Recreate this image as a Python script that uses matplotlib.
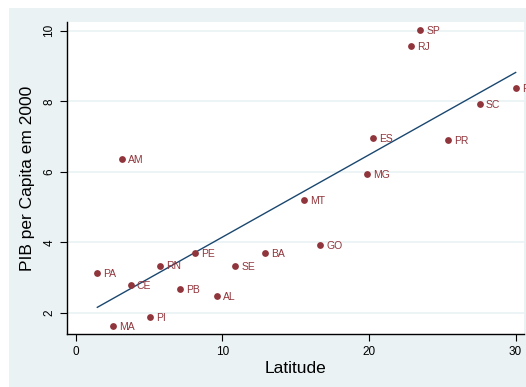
import numpy as np
import matplotlib
matplotlib.use("Agg")
import matplotlib.pyplot as plt
from matplotlib.patches import Rectangle

plt.rcParams["font.family"] = ["Liberation Sans", "DejaVu Sans"]

# ── Data ────────────────────────────────────────────────────────────────────
states = ["AM", "SP", "RJ", "RS", "SC", "ES", "PR", "MG", "MT", "GO",
          "BA", "PA", "CE", "RN", "PE", "PB", "SE", "AL", "PI", "MA"]
latitude = [3.12, 23.50, 22.87, 30.01, 27.56, 20.27, 25.39, 19.89, 15.54, 16.66,
            12.88, 1.46, 3.73, 5.73, 8.14, 7.08, 10.87, 9.62, 5.05, 2.50]
pib_2000 = [6.36, 10.01, 9.57, 8.37, 7.92, 6.96, 6.90, 5.94, 5.19, 3.92,
            3.69, 3.13, 2.79, 3.34, 3.69, 2.68, 3.32, 2.47, 1.88, 1.63]

MAROON = "#90353B"
NAVY = "#1A476F"
BG = "#EAF2F3"

lat = np.array(latitude)
pib = np.array(pib_2000)
# linear fit drawn over the observed latitude range
slope, intercept = np.polyfit(lat, pib, 1)
xfit = np.array([lat.min(), lat.max()])

fig = plt.figure(figsize=(5.26, 3.87), dpi=100)
fig.patch.set_facecolor("white")
fig.patches.append(Rectangle((9 / 526, 0), 1, 379 / 387, transform=fig.transFigure,
                             facecolor=BG, edgecolor="none", zorder=-10))

ax = fig.add_axes([67 / 526, 53 / 387, 457 / 526, 312 / 387])
ax.set_facecolor("white")

ax.scatter(lat, pib, s=24, color=MAROON, zorder=3, linewidths=0)
for s, x, y in zip(states, lat, pib):
    ax.annotate(s, (x, y), xytext=(4.5, -0.5), textcoords="offset points",
                ha="left", va="center", fontsize=7.5, color=MAROON, zorder=4)
ax.plot(xfit, intercept + slope * xfit, color=NAVY, lw=1.0, zorder=2)

ax.set_xlim(-0.61, 30.58)
ax.set_ylim(1.40, 10.25)
ax.set_xticks([0, 10, 20, 30])
ax.set_yticks([2, 4, 6, 8, 10])
ax.grid(axis="y", color=BG, lw=1.2, zorder=0)
ax.set_axisbelow(True)

for side in ["top", "right"]:
    ax.spines[side].set_visible(False)
for side in ["left", "bottom"]:
    ax.spines[side].set_color("black")
    ax.spines[side].set_linewidth(1.0)

ax.tick_params(direction="out", length=5, width=0.8, labelsize=8.5, colors="black")
for lbl in ax.get_yticklabels():
    lbl.set_rotation(90)
    lbl.set_va("center")

ax.set_xlabel("Latitude", fontsize=12.5, labelpad=2)
ax.set_ylabel("PIB per Capita em 2000", fontsize=12.5, labelpad=6)

fig.savefig("out.png", dpi=100, facecolor=fig.get_facecolor())
